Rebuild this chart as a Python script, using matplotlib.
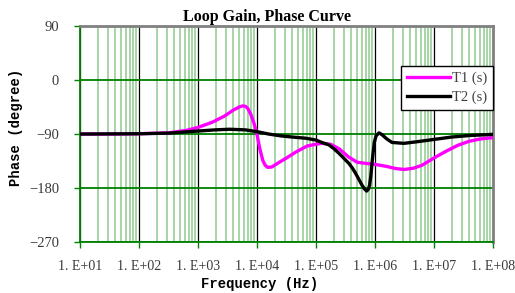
import numpy as np
import matplotlib
matplotlib.use('Agg')
import matplotlib.pyplot as plt
import matplotlib.ticker as ticker

# log10(frequency) and phase
t1_logf = [1.0, 1.5, 2.0, 2.5, 2.8, 3.0, 3.25, 3.45, 3.6, 3.7, 3.76, 3.81, 3.85, 3.9,
           3.95, 4.0, 4.05, 4.1, 4.14, 4.18, 4.25, 4.38, 4.5, 4.66, 4.85, 5.0, 5.1,
           5.25, 5.4, 5.55, 5.7, 5.85, 6.0, 6.2, 6.35, 6.5, 6.65, 6.8, 7.0, 7.2,
           7.4, 7.6, 7.8, 8.0]
t1_phase = [-90, -90, -89.5, -88, -84, -79, -70, -60, -50, -45, -43, -44, -48, -58,
            -72, -90, -115, -134, -142, -145.5, -145, -137, -130, -120, -110, -107, -105.5,
            -107, -115, -128, -137, -139, -140.5, -144, -147.5, -149, -147, -142, -130, -119,
            -109, -102, -98, -96]

t2_logf = [1.0, 2.0, 2.5, 3.0, 3.3, 3.53, 3.8, 4.0, 4.2, 4.4, 4.6, 4.83, 5.0, 5.1,
           5.22, 5.3, 5.39, 5.47, 5.56, 5.62, 5.67, 5.72, 5.78, 5.82, 5.86, 5.89,
           5.91, 5.93, 5.96, 5.99, 6.02, 6.07, 6.12, 6.2, 6.29, 6.49, 6.7, 7.0,
           7.3, 7.6, 8.0]
t2_phase = [-90, -89.5, -88.5, -85, -83, -82, -83, -86, -90, -93, -95, -97, -100, -104,
            -108, -114, -122, -130, -139, -147, -155, -164, -175, -181, -185, -182,
            -175, -161, -130, -104, -93, -88, -91, -98, -104, -105.5, -103, -99,
            -95, -92.5, -90.5]

x_tick_labels = ['1. E+01', '1. E+02', '1. E+03', '1. E+04', '1. E+05', '1. E+06', '1. E+07', '1. E+08']
y_ticks = [-270, -180, -90, 0, 90]

fig = plt.figure(figsize=(5.15, 2.93), dpi=100)
ax = fig.add_axes([0.1553, 0.174, 0.8017, 0.737])

ax.set_xscale('log')
ax.set_xlim(1e1, 1e8)
ax.set_ylim(-270, 90)

# grid
ax.xaxis.set_minor_locator(ticker.LogLocator(base=10, subs=np.arange(2, 10), numticks=100))
ax.set_xticks([10.0 ** k for k in range(1, 9)])
ax.set_xticklabels(x_tick_labels)
ax.set_yticks(y_ticks)
ax.grid(which='minor', axis='x', color='#9fd29f', lw=1.3)
ax.grid(which='major', axis='x', color='black', lw=0.9)
ax.grid(which='major', axis='y', color='#008000', lw=1.3)
ax.set_axisbelow(True)

ax.plot(10.0 ** np.array(t1_logf), t1_phase, color='#ff00ff', lw=2.4, label='T1 (s)', zorder=3)
ax.plot(10.0 ** np.array(t2_logf), t2_phase, color='black', lw=2.4, label='T2 (s)', zorder=4)

for s in ['top', 'right']:
    ax.spines[s].set_color('#808080')
    ax.spines[s].set_linewidth(2)
for s in ['left', 'bottom']:
    ax.spines[s].set_color('#008000')
    ax.spines[s].set_linewidth(1.3)

ax.tick_params(which='major', length=4, width=1, color='#008000', labelcolor='#3a3a3a')
ax.tick_params(axis='x', pad=9, labelsize=10)
ax.tick_params(axis='y', pad=11, labelsize=10.5)
ax.tick_params(which='minor', length=0)
for lab in ax.get_xticklabels() + ax.get_yticklabels():
    lab.set_family('Liberation Serif')

ax.set_title('Loop Gain, Phase Curve', fontsize=11.5, fontweight='bold',
             family='Liberation Serif', pad=4, x=0.453)
ax.set_xlabel('Frequency (Hz)', fontsize=10, fontweight='bold', family='Liberation Mono')
ax.xaxis.set_label_coords(0.436, -0.162)
ax.set_ylabel('Phase (degree)', fontsize=10, fontweight='bold', family='Liberation Mono')
ax.yaxis.set_label_coords(-0.138, 0.532)

leg = ax.legend(loc='upper right', bbox_to_anchor=(1.0, 0.815), fancybox=False,
                edgecolor='black', framealpha=1, prop={'family': 'Liberation Serif', 'size': 10.5},
                handlelength=3.0, handletextpad=0.1, borderpad=0.4, labelspacing=0.35,
                borderaxespad=0)
leg.get_frame().set_linewidth(1)
for t in leg.get_texts():
    t.set_color('#404040')

plt.savefig('out.png', dpi=100)
